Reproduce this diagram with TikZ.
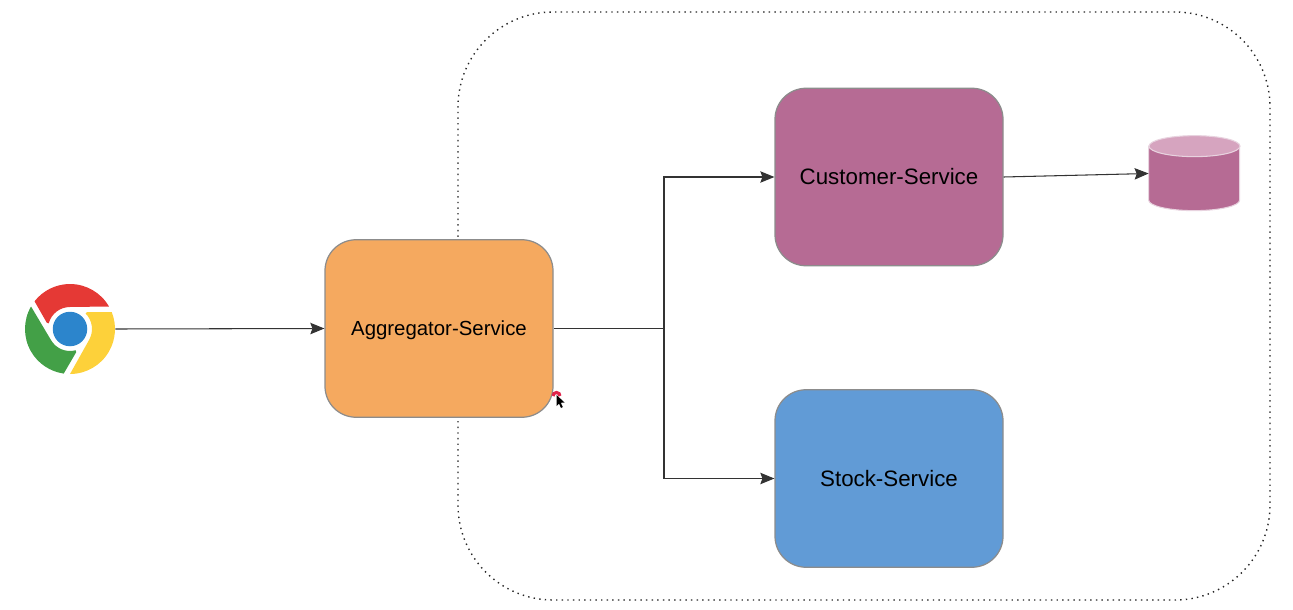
\documentclass[tikz,border=0pt]{standalone}
\usepackage{fontspec}
\setmainfont{Liberation Sans}
\usepackage{xcolor}
\usetikzlibrary{positioning,calc,arrows.meta}
\definecolor{svcorange}{HTML}{F5A95F}
\definecolor{svcpurple}{HTML}{B66B94}
\definecolor{svcblue}{HTML}{619BD6}
\definecolor{svcborder}{HTML}{8C8C8C}
\definecolor{dbtop}{HTML}{D6A4BF}
\definecolor{dbedge}{HTML}{E8D3DF}
\definecolor{logored}{HTML}{E53935}
\definecolor{logogreen}{HTML}{43A047}
\definecolor{logoyellow}{HTML}{FDD13A}
\definecolor{logoblue}{HTML}{2C85CC}
\definecolor{pointerred}{HTML}{E0234A}

\begin{document}
\begin{tikzpicture}[
  x=0.2mm, y=-0.2mm,
  service/.style={draw=svcborder, line width=0.7pt, rounded corners=0.62cm, minimum width=4.56cm,
    minimum height=3.55cm, font=\fontsize{12.7}{15}\selectfont, text=black},
  link/.style={-{Stealth[length=8pt,width=6.5pt,inset=1.2pt]}, black!80, line width=0.6pt},
  wire/.style={black!80, line width=0.6pt},
  boundary/.style={draw=black!85, line width=0.8pt, dash pattern=on 0.8pt off 2.4pt, rounded corners=1.9cm,
    minimum width=16.24cm, minimum height=11.76cm},
  datastore/.style={minimum width=1.82cm, minimum height=1.5cm, inner sep=0pt},
]
\useasboundingbox (0,0) rectangle (1293,610);
% ---------- dotted boundary goes first, the aggregator sits on top of it ----------
\node[boundary] (cluster) at (864,306) {};
% ---------- services ----------
\node[service, fill=svcorange, font=\fontsize{11.6}{14}\selectfont, text depth=0pt] (aggregator) at (439,328.5) {Aggregator-Service};
\node[service, fill=svcpurple] (customer) at (889,177) {Customer-Service};
\node[service, fill=svcblue] (stock) at (889,478.5) {Stock-Service};
% ---------- database ----------
\node[datastore] (db) at (1194.5,173.5) {};
\draw[draw=dbedge, fill=svcpurple, line width=0.6pt] (db.north west) ++(0,10.5)
  -- ++(0,54) arc[start angle=180, end angle=360, x radius=0.91cm, y radius=0.21cm]
  -- ++(0,-54) -- cycle;
\draw[draw=dbedge, fill=dbtop, line width=0.6pt] (db.north) ++(0,10.5) ellipse[x radius=0.91cm, y radius=0.21cm];
% ---------- browser logo ----------
\node[circle, minimum size=1.8cm, inner sep=0pt] (browser) at (70,329) {};
\begin{scope}[shift={(browser.center)}, x=0.2mm, y=0.2mm]
  \foreach \rot/\col in {0/logored, 120/logogreen, 240/logoyellow} {
    \pgfmathsetmacro{\aa}{\rot+30}
    \pgfmathsetmacro{\ab}{\rot+142}
    \pgfmathsetmacro{\ac}{\rot+165}
    \pgfmathsetmacro{\ad}{\rot+90}
    \fill[\col] (\aa:0.9cm) arc[start angle=\aa, end angle=\ab, radius=0.9cm]
      -- (\ac:0.48cm) -- (\ac:0.44cm) arc[start angle=\ac, end angle=\ad, radius=0.44cm] -- cycle;
  }
  \fill[logoblue] (0,0) circle[radius=0.345cm];
\end{scope}
% ---------- connectors ----------
\coordinate (split) at (664,328.5);
\draw[link] (browser.east) -- (aggregator.west);
\draw[wire] (aggregator.east) -- (split);
\draw[link] (split) |- (customer.west);
\draw[link] (split) |- (stock.west);
\draw[link] (customer.east) -- (db.west);
% ---------- mouse pointer ----------
\draw[pointerred, line width=1.8pt] (553,396) arc[start angle=180, end angle=0, radius=0.07cm];
\fill[black] (556.5,395) -- (556.5,406) -- (559,403.5) -- (561,408) -- (562.8,407) -- (560.8,402.8) -- (564.5,402.5) -- cycle;
\end{tikzpicture}
\end{document}
